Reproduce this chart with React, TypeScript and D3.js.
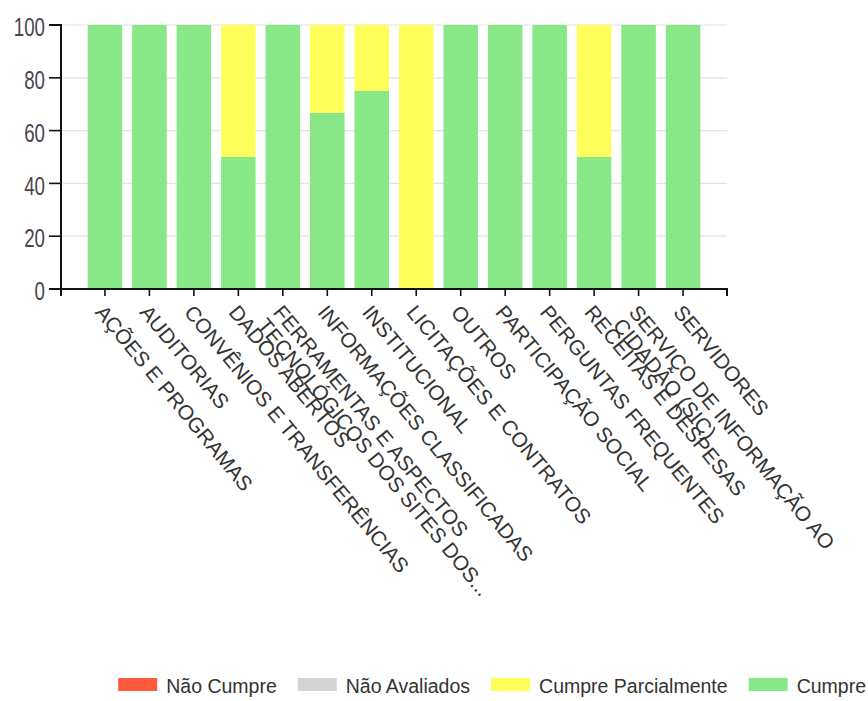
import React, { useEffect, useRef } from "react";
import * as d3 from "d3";

const categories = [
  "AÇÕES E PROGRAMAS",
  "AUDITORIAS",
  "CONVÊNIOS E TRANSFERÊNCIAS",
  "DADOS ABERTOS",
  "FERRAMENTAS E ASPECTOS\nTECNOLÓGICOS DOS SITES DOS...",
  "INFORMAÇÕES CLASSIFICADAS",
  "INSTITUCIONAL",
  "LICITAÇÕES E CONTRATOS",
  "OUTROS",
  "PARTICIPAÇÃO SOCIAL",
  "PERGUNTAS FREQUENTES",
  "RECEITAS E DESPESAS",
  "SERVIÇO DE INFORMAÇÃO AO\nCIDADÃO (SIC)",
  "SERVIDORES",
];

const cumpre = [100, 100, 100, 50, 100, 66.7, 75, 0, 100, 100, 100, 50, 100, 100];
const cumpreParcialmente = [0, 0, 0, 50, 0, 33.3, 25, 100, 0, 0, 0, 50, 0, 0];
const naoAvaliados = [0, 0, 0, 0, 0, 0, 0, 0, 0, 0, 0, 0, 0, 0];
const naoCumpre = [0, 0, 0, 0, 0, 0, 0, 0, 0, 0, 0, 0, 0, 0];

const seriesNames = ["Não Cumpre", "Não Avaliados", "Cumpre Parcialmente", "Cumpre"];
const seriesColors = ["#fd5b3c", "#d3d3d3", "#ffff5c", "#88e888"];
const yTicks = [0, 20, 40, 60, 80, 100];

export default function App() {
  const ref = useRef<SVGSVGElement>(null);

  useEffect(() => {
    const svg = d3.select(ref.current);
    svg.selectAll("*").remove();

    const x0 = 61, x1 = 727, yTop = 25, yBot = 289;
    const x = d3.scaleBand<string>().domain(categories).range([x0, x1]).paddingInner(0.224).paddingOuter(0.6);
    const y = d3.scaleLinear().domain([0, 100]).range([yBot, yTop]);

    // grid
    svg.append("g").selectAll("line").data(yTicks).join("line")
      .attr("x1", x0).attr("x2", x1)
      .attr("y1", (d) => y(d)).attr("y2", (d) => y(d))
      .attr("stroke", "#e2e2e2").attr("stroke-width", 1.2);

    // stacked data: bottom to top
    const stackKeys = ["Cumpre", "Cumpre Parcialmente", "Não Avaliados", "Não Cumpre"];
    const table = categories.map((c, i) => ({
      cat: c,
      "Cumpre": cumpre[i],
      "Cumpre Parcialmente": cumpreParcialmente[i],
      "Não Avaliados": naoAvaliados[i],
      "Não Cumpre": naoCumpre[i],
    }));
    const stacked = d3.stack<any>().keys(stackKeys)(table);
    const colorOf = (k: string) => seriesColors[seriesNames.indexOf(k)];

    const gBars = svg.append("g");
    stacked.forEach((layer) => {
      gBars.append("g").attr("fill", colorOf(layer.key))
        .selectAll("rect").data(layer).join("rect")
        .attr("x", (d: any) => x(d.data.cat)!)
        .attr("width", x.bandwidth())
        .attr("y", (d: any) => y(d[1]))
        .attr("height", (d: any) => Math.max(0, y(d[0]) - y(d[1])));
    });

    // y axis
    const gy = svg.append("g");
    gy.append("path")
      .attr("d", `M${x0 - 12},${yTop}H${x0}V${yBot}H${x0 - 12}`)
      .attr("fill", "none").attr("stroke", "#111").attr("stroke-width", 2);
    yTicks.forEach((t) => {
      gy.append("line").attr("x1", x0 - 12).attr("x2", x0).attr("y1", y(t)).attr("y2", y(t))
        .attr("stroke", "#111").attr("stroke-width", 1.6);
      gy.append("text")
        .attr("transform", `translate(${x0 - 16},${y(t) + 2}) scale(0.72,1)`)
        .attr("text-anchor", "end").attr("dy", "0.35em")
        .attr("font-family", "Liberation Sans, Arial, sans-serif").attr("font-size", 26)
        .attr("fill", "#4a4550").text(String(t));
    });

    // x axis
    const gx = svg.append("g");
    gx.append("path")
      .attr("d", `M${x0},${yBot + 7}V${yBot}H${x1}V${yBot + 7}`)
      .attr("fill", "none").attr("stroke", "#111").attr("stroke-width", 2);
    categories.forEach((c) => {
      const cx = x(c)! + x.bandwidth() / 2;
      gx.append("line").attr("x1", cx).attr("x2", cx).attr("y1", yBot).attr("y2", yBot + 7)
        .attr("stroke", "#111").attr("stroke-width", 1.6);
      const lines = c.split("\n");
      const t = gx.append("text")
        .attr("transform", `translate(${cx - 5},${yBot + 19}) rotate(50.5)`)
        .attr("text-anchor", "start")
        .attr("font-family", "Liberation Sans, Arial, sans-serif").attr("font-size", 20.8)
        .attr("fill", "#333");
      lines.forEach((ln, i) => {
        t.append("tspan").attr("x", 0).attr("dy", i === 0 ? "0.35em" : "1.0em").text(ln);
      });
    });

    // legend, laid out from the right
    const gl = svg.append("g");
    const sw = 39, gap = 9, itemGap = 21;
    let right = 866;
    const ly = 684;
    for (let i = seriesNames.length - 1; i >= 0; i--) {
      const txt = gl.append("text")
        .attr("font-family", "Liberation Sans, Arial, sans-serif").attr("font-size", 19.5)
        .attr("fill", "#333").attr("dy", "0.35em").attr("y", ly + 2)
        .text(seriesNames[i]);
      const w = (txt.node() as SVGTextElement).getComputedTextLength();
      txt.attr("x", right - w);
      gl.append("rect").attr("x", right - w - gap - sw).attr("y", ly - 6)
        .attr("width", sw).attr("height", 13).attr("fill", seriesColors[i]);
      right = right - w - gap - sw - itemGap;
    }
  }, []);

  return (
    <svg ref={ref} width={868} height={701}
      style={{ position: "absolute", left: 0, top: 0, background: "#fff" }} />
  );
}
